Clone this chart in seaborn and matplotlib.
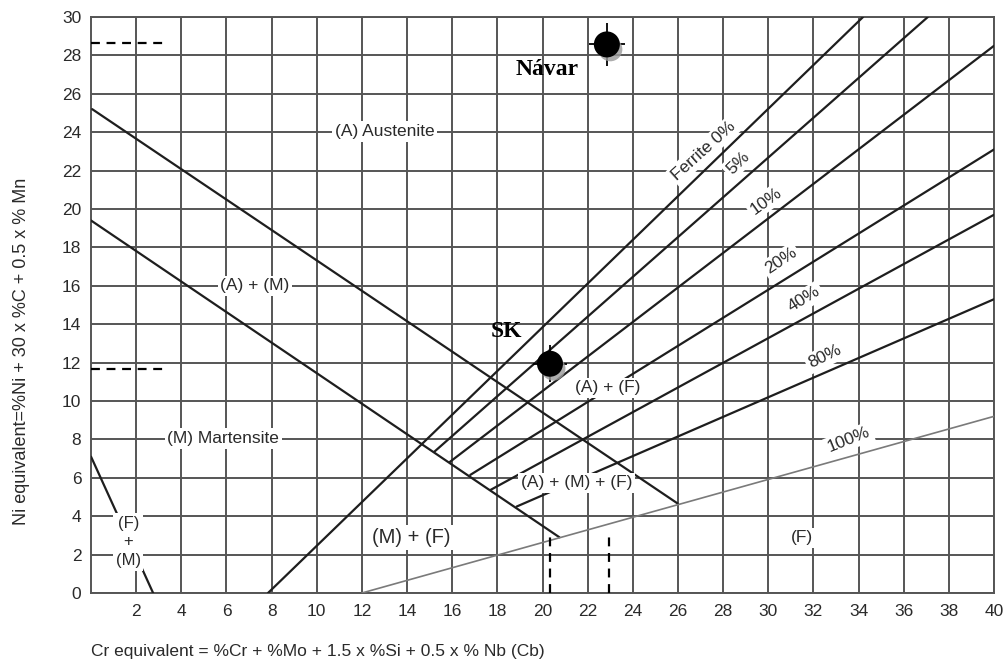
import matplotlib
matplotlib.use('Agg')
import matplotlib.pyplot as plt
import matplotlib.patheffects as pe
import seaborn as sns

# -------------------------------
# Data
# -------------------------------
x_ticks = list(range(2, 41, 2))
y_ticks = list(range(0, 31, 2))

# phase boundaries (Cr eq, Ni eq)
am_upper_x = [0.05, 26.0]
am_upper_y = [25.2, 4.65]
am_lower_x = [0.0, 20.75]
am_lower_y = [19.4, 2.9]
fm_x = [0.0, 2.75]
fm_y = [7.1, 0.0]

# ferrite iso-lines (start / end)
ferrite_names = ['0%', '5%', '10%', '20%', '40%', '80%', '100%']
ferrite_x0 = [7.84, 15.2, 15.9, 16.8, 17.7, 18.85, 12.0]
ferrite_y0 = [0.0, 7.35, 6.83, 6.15, 5.37, 4.5, 0.0]
ferrite_x1 = [34.2, 37.07, 40.0, 40.0, 40.0, 40.0, 40.0]
ferrite_y1 = [30.0, 30.0, 28.5, 23.1, 19.7, 15.3, 9.2]

# ferrite labels
flabel_text = ['Ferrite 0%', '5%', '10%', '20%', '40%', '80%', '100%']
flabel_x = [27.15, 28.65, 29.9, 30.56, 31.6, 32.5, 33.57]
flabel_y = [23.04, 22.4, 20.4, 17.3, 15.3, 12.3, 7.98]
flabel_rot = [42, 44, 36, 34, 32, 26, 22]

# region labels
region_text = ['(A) Austenite', '(A) + (M)', '(M) Martensite', '(F)\n+\n(M)',
               '(M) + (F)', '(A) + (F)', '(A) + (M) + (F)', '(F)']
region_x = [13.0, 7.26, 5.86, 1.65, 14.2, 22.9, 21.5, 31.5]
region_y = [24.03, 16.0, 8.05, 2.66, 2.9, 10.69, 5.73, 2.87]
region_size = [12.5, 12.5, 12.5, 12, 14.5, 12.5, 12.5, 12.5]

# samples
sample_names = ['Návar', 'SK']
sample_x = [22.85, 20.33]
sample_y = [28.57, 11.94]
sample_xerr = [0.8, 0.77]
sample_yerr = [1.1, 0.95]
name_x = [20.2, 18.4]
name_y = [27.27, 13.6]

# dashed guide lines
guide_h_y = [28.62, 11.68]
guide_h_end = [3.4, 3.3]
guide_v_x = [20.33, 22.94]
guide_v_end = [3.1, 3.0]

# -------------------------------
# Plot
# -------------------------------
sns.set_style('white')
plt.rcParams['font.family'] = ['Liberation Sans', 'DejaVu Sans']

fig = plt.figure(figsize=(10.07, 6.63), dpi=100)
ax = fig.add_axes([0.0904, 0.1056, 0.8967, 0.8688])

line_col = '#1e1e1e'
grid_col = '#555555'
text_col = '#2a2a2a'

for xs, ys in [(am_upper_x, am_upper_y), (am_lower_x, am_lower_y), (fm_x, fm_y)]:
    sns.lineplot(x=xs, y=ys, ax=ax, color=line_col, lw=1.6,
                 estimator=None, sort=False, zorder=3)

for i, name in enumerate(ferrite_names):
    light = name == '100%'
    sns.lineplot(x=[ferrite_x0[i], ferrite_x1[i]], y=[ferrite_y0[i], ferrite_y1[i]],
                 ax=ax, color='#7a7a7a' if light else line_col,
                 lw=1.2 if light else 1.6, estimator=None, sort=False, zorder=3)

box = dict(boxstyle='square,pad=0.15', fc='white', ec='none')
for t, x, y, r in zip(flabel_text, flabel_x, flabel_y, flabel_rot):
    ax.text(x, y, t, rotation=r, ha='center', va='center', fontsize=12.5,
            color=text_col, bbox=box, zorder=4, rotation_mode='anchor')

for t, x, y, s in zip(region_text, region_x, region_y, region_size):
    ax.text(x, y, t, ha='center', va='center', fontsize=s, color=text_col,
            bbox=box, zorder=4, linespacing=1.3)

# dashed guides
for y, xe in zip(guide_h_y, guide_h_end):
    ax.plot([0, xe], [y, y], color='black', lw=1.6, ls=(0, (4, 3)), zorder=5)
for x, ye in zip(guide_v_x, guide_v_end):
    ax.plot([x, x], [0, ye], color='black', lw=1.6, ls=(0, (4, 3)), zorder=5)

# samples
ax.errorbar(sample_x, sample_y, xerr=sample_xerr, yerr=sample_yerr, fmt='none',
            ecolor='black', elinewidth=1.3, capsize=0, zorder=5)
sns.scatterplot(x=sample_x, y=sample_y, ax=ax, s=300, color='black',
                edgecolor='black', zorder=6, legend=False)
ax.collections[-1].set_path_effects(
    [pe.SimplePatchShadow(offset=(2.5, -3.5), shadow_rgbFace='#999999', alpha=0.8),
     pe.Normal()])
for t, x, y in zip(sample_names, name_x, name_y):
    ax.text(x, y, t, ha='center', va='center', fontsize=17, fontweight='bold',
            family=['Liberation Serif', 'DejaVu Serif'], color='black', zorder=6)

# axes, grid
ax.set_xlim(0, 40)
ax.set_ylim(0, 30)
ax.set_xticks(x_ticks)
ax.set_yticks(y_ticks)
ax.grid(True, color=grid_col, lw=1.4)
ax.set_axisbelow(True)
ax.tick_params(axis='both', length=0, labelsize=12.5, labelcolor=text_col)
ax.tick_params(axis='x', pad=8)
ax.tick_params(axis='y', pad=7)
for sp in ax.spines.values():
    sp.set_color(grid_col)
    sp.set_linewidth(1.4)

ax.set_xlabel('Cr equivalent = %Cr + %Mo + 1.5 x %Si + 0.5 x % Nb (Cb)',
              fontsize=12.5, color=text_col, loc='left')
ax.xaxis.set_label_coords(0.0, -0.088)
ax.set_ylabel('Ni equivalent=%Ni + 30 x %C + 0.5 x % Mn', fontsize=13, color=text_col)
ax.yaxis.set_label_coords(-0.068, 0.42)

fig.savefig('out.png', dpi=100)
